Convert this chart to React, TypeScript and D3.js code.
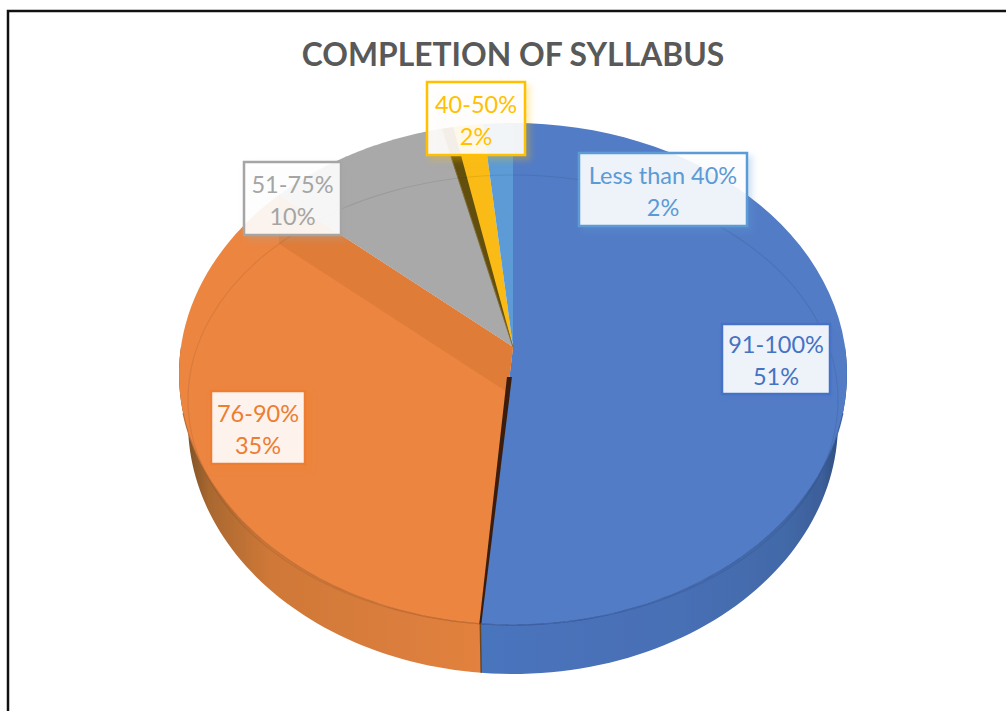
import React from "react";
import * as d3 from "d3";

const categories = ["91-100%", "76-90%", "51-75%", "40-50%", "Less than 40%"];
const shares = [51.4, 35.0, 9.8, 2.2, 1.6];
const shareLabels = ["51%", "35%", "10%", "2%", "2%"];
const colors = ["#527cc6", "#ec8540", "#a9a9a9", "#fabb13", "#5b9bd5"];
const textColors = ["#4472c4", "#ed7d31", "#a5a5a5", "#ffc000", "#5b9bd5"];
const title = "COMPLETION OF SYLLABUS";

const W = 1006, H = 711;
const boxes = [
  { x: 722, y: 324, w: 108, h: 70 },
  { x: 211, y: 391, w: 94, h: 73 },
  { x: 244, y: 162, w: 97, h: 73 },
  { x: 427, y: 82, w: 98, h: 73 },
  { x: 579, y: 153, w: 168, h: 73 },
];

// Perspective projection of the pie's unit disc on the page
const cx = 513, apexY = 347, topY = 123, bottomY = 625, faceRx = 334, depth = 49;
const k = -(2 * apexY - topY - bottomY) / (bottomY - topY);
const b = topY * (1 + k) - apexY;
const c = faceRx * Math.sqrt(1 - k * k);
const project = (a: number, r = 1): [number, number] => {
  const u = r * Math.sin(a), v = r * Math.cos(a), den = 1 + k * v;
  return [cx + (c * u) / den, (apexY + b * v) / den];
};
const projectBase = (a: number): [number, number] => {
  const [x, y] = project(a);
  return [cx + (x - cx) * 0.973, y + depth];
};
const line = d3.line<[number, number]>();
const arcPts = (a0: number, a1: number, f = project) =>
  d3.range(0, 61).map((i) => f(a0 + ((a1 - a0) * i) / 60));
const wedge = (a0: number, a1: number) => line([[cx, apexY], ...arcPts(a0, a1)]) + "Z";

const arcs = d3.pie<number>().sort(null)(shares);
const sideFor = (a0: number, a1: number) =>
  line([...arcPts(a0, a1), ...arcPts(a1, a0, projectBase)]) + "Z";

export default function App() {
  const [blue, orange, grey, yellow] = arcs;
  const edge = project(orange.endAngle);
  const band: [number, number][] = [
    edge,
    [cx, apexY],
    [cx, apexY + depth],
    [edge[0], edge[1] + depth],
  ];
  const front = project(blue.endAngle);
  const frontBase = projectBase(blue.endAngle);
  const darkEnd = yellow.startAngle + (yellow.endAngle - yellow.startAngle) * 0.28;
  const seam = d3.scaleLinear().domain([apexY, front[1]]).range([cx, front[0]]);
  const seamTop = apexY + 30;
  const seamPoly: [number, number][] = [
    [seam(seamTop) - 2.5, seamTop],
    [seam(seamTop) + 2.5, seamTop],
    [front[0] + 1, front[1]],
    [front[0] - 1, front[1]],
  ];
  const rimStart = (105 * Math.PI) / 180;
  const rimEnd = (255 * Math.PI) / 180;
  return (
    <svg width={W} height={H} style={{ position: "absolute", left: 0, top: 0, background: "#fff" }}>
      <defs>
        <linearGradient id="sideBlue" x1="0" x2="1" y1="0" y2="0">
          <stop offset="0" stopColor="#4a74bd" />
          <stop offset="0.55" stopColor="#476fb5" />
          <stop offset="0.82" stopColor="#436aa9" />
          <stop offset="0.93" stopColor="#3c5f9a" />
          <stop offset="1" stopColor="#2b4674" />
        </linearGradient>
        <linearGradient id="sideOrange" x1="0" x2="1" y1="0" y2="0">
          <stop offset="0" stopColor="#6e4a26" />
          <stop offset="0.1" stopColor="#a9682f" />
          <stop offset="0.3" stopColor="#cf7838" />
          <stop offset="1" stopColor="#e2813f" />
        </linearGradient>
        <clipPath id="orangeClip"><path d={wedge(orange.startAngle, orange.endAngle)} /></clipPath>
        <filter id="soft" x="-5%" y="-5%" width="110%" height="110%">
          <feGaussianBlur stdDeviation="0.6" />
        </filter>
        {textColors.map((col, i) => (
          <filter key={col} id={`shadow${i}`} x="-20%" y="-20%" width="140%" height="140%">
            <feDropShadow dx="4" dy="4" stdDeviation="3" floodColor={col} floodOpacity="0.3" />
          </filter>
        ))}
      </defs>

      <path d="M8 711V11H1006" fill="none" stroke="#111" strokeWidth={2.5} />

      <text x={513} y={66} textAnchor="middle" fontFamily="Lato" fontWeight={700} fontSize={31.8} fill="#595959">
        {title}
      </text>

      <g filter="url(#soft)">
        <path d={sideFor(Math.PI / 2, blue.endAngle)} fill="url(#sideBlue)" />
        <path d={sideFor(blue.endAngle, (3 * Math.PI) / 2)} fill="url(#sideOrange)" />
        {arcs.map((a, i) => (
          <path key={categories[i]} d={wedge(a.startAngle, a.endAngle)} fill={colors[i]} />
        ))}
        <path d={line(band) + "Z"} fill="#df7c38" clipPath="url(#orangeClip)" />
        <path d={wedge(yellow.startAngle, darkEnd)} fill="#64500f" />
        <path d={line([[cx, apexY], project(grey.endAngle)])!} stroke="#7d6b3a" strokeWidth={1} fill="none" />
        <ellipse cx={cx} cy={400} rx={325} ry={225} fill="none" stroke="#000" strokeOpacity={0.08} strokeWidth={1.2} />
        <path d={line(arcPts(rimStart, blue.endAngle))!} fill="none" stroke="#33569a" strokeOpacity={0.8} strokeWidth={1.2} />
        <path d={line(arcPts(blue.endAngle, rimEnd))!} fill="none" stroke="#b9652c" strokeOpacity={0.8} strokeWidth={1.2} />
        <path d={line(seamPoly) + "Z"} fill="#3a1f0a" />
        <path d={line([front, frontBase])!} stroke="#6a4524" strokeWidth={1.5} fill="none" />
      </g>

      {categories.map((name, i) => {
        const r = boxes[i];
        const mid = r.x + r.w / 2;
        const first = r.y + r.h / 2 - 6;
        return (
          <g key={name}>
            <rect x={r.x} y={r.y} width={r.w} height={r.h} fill="#fff" fillOpacity={0.89}
              stroke={textColors[i]} strokeWidth={2.5} filter={`url(#shadow${i})`} />
            <text x={mid} y={first} textAnchor="middle" fontFamily="Lato" fontSize={23.5} fill={textColors[i]}>{name}</text>
            <text x={mid} y={first + 32} textAnchor="middle" fontFamily="Lato" fontSize={23.5} fill={textColors[i]}>{shareLabels[i]}</text>
          </g>
        );
      })}
    </svg>
  );
}
